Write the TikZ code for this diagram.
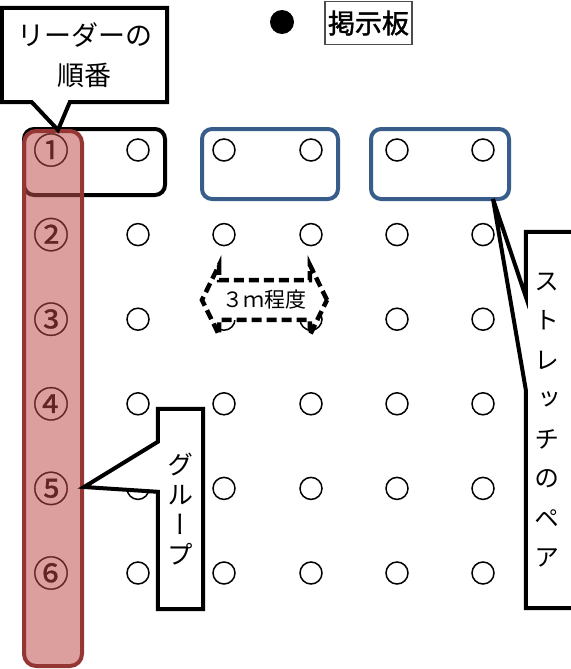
\documentclass[tikz,border=0pt]{standalone}
\usepackage{fontspec}
\newfontfamily\jp{Noto Sans CJK JP}
\newfontfamily\jpv[RawFeature=+vert]{Noto Sans CJK JP}
\newfontfamily\jpb[FakeBold=1.5]{Noto Sans CJK JP}
\newfontfamily\jpn[FakeBold=0.8]{Noto Sans CJK JP}
\usetikzlibrary{shapes.arrows,calc}
\definecolor{pairblue}{RGB}{56,93,138}
\definecolor{leadred}{RGB}{148,54,52}
\definecolor{leadfill}{RGB}{192,80,77}
\definecolor{numred}{RGB}{99,37,35}

\begin{document}
\begin{tikzpicture}[x=1pt,y=-1pt,
  seat/.style={circle,draw,line width=1.5pt,minimum size=22pt,inner sep=0pt},
  callout/.style={draw,line width=4pt,fill=white,line join=miter},
  holder/.style={inner sep=0pt,minimum width=#1},
  lbl/.style={font=\jp\fontsize{27}{40}\selectfont,align=center}]
\useasboundingbox (0,0) rectangle (570,669);

\node[circle,fill,minimum size=24pt,inner sep=0pt] (dot) at (282,22) {};
\node[draw=black!70,line width=1.2pt,font=\jpb\fontsize{27}{27}\selectfont,
  minimum width=87pt,minimum height=43pt,inner sep=0pt] (board) at (368.5,23) {掲示板};

\foreach \r in {1,...,6}
  \foreach \c/\x in {1/138,2/224,3/311,4/397,5/483}
    \node[seat] (s-\r-\c) at (\x,{150+84.6*(\r-1)}) {};

\draw[line width=4pt,rounded corners=10pt] (24,129) rectangle (165,195);
\draw[pairblue,line width=4pt,rounded corners=10pt] (202,129) rectangle (338,199);
\draw[pairblue,line width=4pt,rounded corners=10pt] (371,129) rectangle (509,199);

\draw[leadred,line width=4pt,fill=leadfill,fill opacity=0.55,rounded corners=12pt]
  (24,131) rectangle (82,666);
\foreach \r/\g in {1/①,2/②,3/③,4/④,5/⑤,6/⑥}
  \node[text=numred,font=\jpn\fontsize{36}{36}\selectfont,inner sep=0pt] (n-\r) at (51,{150+84.6*(\r-1)}) {\g};

\node[double arrow,draw,line width=4.5pt,dash pattern=on 10pt off 5pt,fill=white,
  minimum height=125pt,minimum width=66pt,double arrow head extend=15pt,
  double arrow tip angle=128,inner xsep=2pt,inner ysep=8pt,
  font=\jp\fontsize{21}{21}\selectfont] (span) at (264.5,300) {３ｍ程度};

\node[holder=165pt,minimum height=94pt] (lead) at (84.5,55) {};
\coordinate (lead-tip) at (58,130);
\draw[callout] (lead.north west) -- (lead.north east) -- (lead.south east)
  -- ($(lead.south west)+(68,0)$) -- (lead-tip) -- ($(lead.south west)+(30,0)$)
  -- (lead.south west) -- cycle;
\node[lbl] (lead-txt) at (lead) {リーダーの\\順番};

\node[holder=45pt,minimum height=200pt] (grp) at (180.5,509) {};
\coordinate (grp-tip) at (84,487);
\draw[callout] (grp.north west) -- (grp.north east) -- (grp.south east)
  -- (grp.south west) -- ($(grp.north west)+(0,83)$) -- (grp-tip)
  -- ($(grp.north west)+(0,33)$) -- cycle;
\node[font=\jpv\fontsize{26}{30}\selectfont,align=center] (grp-txt) at (grp) {グ\\ル\\ー\\プ};

\node[holder=54pt,minimum height=376pt] (pair) at (553,420) {};
\coordinate (pair-tip) at (493,199);
\draw[callout] (pair.north west) -- (pair.north east) -- (pair.south east)
  -- (pair.south west) -- ($(pair.north west)+(0,158)$) -- (pair-tip)
  -- ($(pair.north west)+(0,65)$) -- cycle;
\node[font=\jpv\fontsize{25}{39.5}\selectfont,align=center] (pair-txt) at (547,420)
  {ス\\ト\\レ\\ッ\\チ\\の\\ペ\\ア};
\end{tikzpicture}
\end{document}
